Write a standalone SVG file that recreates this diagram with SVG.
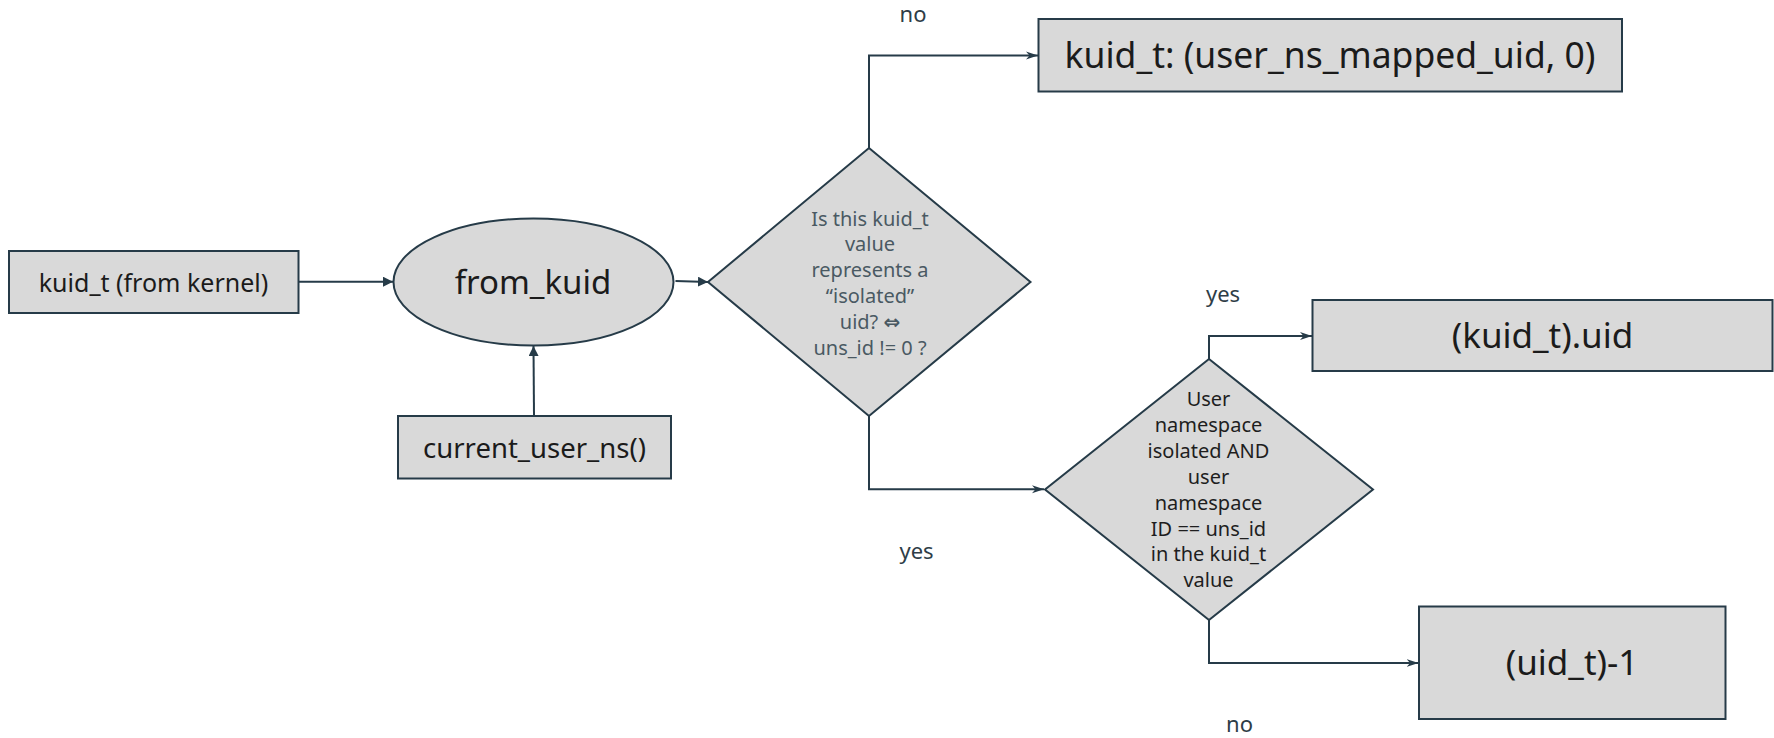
<svg xmlns="http://www.w3.org/2000/svg" width="1774" height="738" viewBox="0 0 1774 738">
  <style>
    .shape { fill: #d9d9d9; stroke: #263b48; stroke-width: 2; }
    .wire { fill: none; stroke: #263b48; stroke-width: 2; }
    .txt { font-family: "Noto Sans", "Open Sans", "DejaVu Sans", sans-serif; fill: #1b1b1b; text-anchor: middle; }
    .q1 { font-family: "Noto Sans", "Open Sans", "DejaVu Sans", sans-serif; fill: #4a5963; font-size: 20px; text-anchor: middle; }
    .q2 { font-family: "Noto Sans", "Open Sans", "DejaVu Sans", sans-serif; fill: #1e1e1e; font-size: 20px; text-anchor: middle; }
    .lbl { font-family: "Noto Sans", "Open Sans", sans-serif; fill: #2e3d47; font-size: 22px; text-anchor: middle; }
  </style>
  <defs>
    <marker id="solid" viewBox="0 0 10 10" refX="10" refY="5" markerWidth="10" markerHeight="10" markerUnits="userSpaceOnUse" orient="auto">
      <path d="M0,0 L10,5 L0,10 z" fill="#263b48"/>
    </marker>
    <marker id="notch" viewBox="0 0 12 10" refX="12" refY="5" markerWidth="12" markerHeight="10" markerUnits="userSpaceOnUse" orient="auto">
      <path d="M0,1 L12,5 L0,9 L3.5,5 z" fill="#263b48"/>
    </marker>
  </defs>

  <!-- connectors -->
  <g id="connectors">
    <line class="wire" x1="298.5" y1="281.7" x2="393" y2="281.7" marker-end="url(#solid)"/>
    <line class="wire" x1="534" y1="416" x2="533.5" y2="346" marker-end="url(#solid)"/>
    <line class="wire" x1="675.5" y1="281" x2="708" y2="282" marker-end="url(#solid)"/>
    <polyline class="wire" points="869,148 869,55.5 1038,55.5" marker-end="url(#notch)"/>
    <polyline class="wire" points="869,416 869,489.3 1044,489.3" marker-end="url(#notch)"/>
    <polyline class="wire" points="1209,359 1209,336 1312,336" marker-end="url(#notch)"/>
    <polyline class="wire" points="1209,620 1209,663 1418.5,663" marker-end="url(#notch)"/>
    <text class="lbl" x="913" y="21.5">no</text>
    <text class="lbl" x="916.5" y="559">yes</text>
    <text class="lbl" x="1223" y="302">yes</text>
    <text class="lbl" x="1239.5" y="731.5">no</text>
  </g>

  <!-- kernel-side input -->
  <g id="kuid-input">
    <rect class="shape" x="9" y="251" width="289.5" height="62"/>
    <text class="txt" x="153.5" y="291.5" font-size="25">kuid_t (from kernel)</text>
  </g>

  <!-- conversion function -->
  <g id="from-kuid">
    <ellipse class="shape" cx="533.5" cy="282" rx="140" ry="63.5"/>
    <text class="txt" x="533" y="293.5" font-size="33">from_kuid</text>
  </g>

  <!-- namespace of the caller -->
  <g id="current-user-ns">
    <rect class="shape" x="398" y="416" width="273" height="62.5"/>
    <text class="txt" x="534.5" y="458" font-size="27.5">current_user_ns()</text>
  </g>

  <!-- first decision: isolated uid? -->
  <g id="isolated-check">
    <polygon class="shape" points="869,148 1030.5,282 869,416 708,282"/>
    <text class="q1" x="870" y="225.5">Is this kuid_t</text>
    <text class="q1" x="870" y="251.3">value</text>
    <text class="q1" x="870" y="277.1">represents a</text>
    <text class="q1" x="870" y="302.9">“isolated”</text>
    <text class="q1" x="870" y="328.7">uid? <tspan font-weight="bold">⇔</tspan></text>
    <text class="q1" x="870" y="354.5">uns_id != 0 ?</text>
  </g>

  <!-- result for non-isolated uid -->
  <g id="mapped-result">
    <rect class="shape" x="1038.5" y="19" width="583.5" height="72.5"/>
    <text class="txt" x="1330" y="68" font-size="35.5">kuid_t: (user_ns_mapped_uid, 0)</text>
  </g>

  <!-- second decision: same namespace? -->
  <g id="namespace-check">
    <polygon class="shape" points="1209,359 1373,489.5 1209,620 1045,489.5"/>
    <text class="q2" x="1208.5" y="406">User</text>
    <text class="q2" x="1208.5" y="431.9">namespace</text>
    <text class="q2" x="1208.5" y="457.8">isolated AND</text>
    <text class="q2" x="1208.5" y="483.7">user</text>
    <text class="q2" x="1208.5" y="509.6">namespace</text>
    <text class="q2" x="1208.5" y="535.5">ID == uns_id</text>
    <text class="q2" x="1208.5" y="561.4">in the kuid_t</text>
    <text class="q2" x="1208.5" y="587.3">value</text>
  </g>

  <!-- result when namespaces match -->
  <g id="uid-result">
    <rect class="shape" x="1312.5" y="300" width="460" height="71"/>
    <text class="txt" x="1542.5" y="348" font-size="35">(kuid_t).uid</text>
  </g>

  <!-- result otherwise -->
  <g id="invalid-result">
    <rect class="shape" x="1419" y="606.5" width="306.5" height="112.5"/>
    <text class="txt" x="1572" y="675" font-size="35">(uid_t)-1</text>
  </g>
</svg>
